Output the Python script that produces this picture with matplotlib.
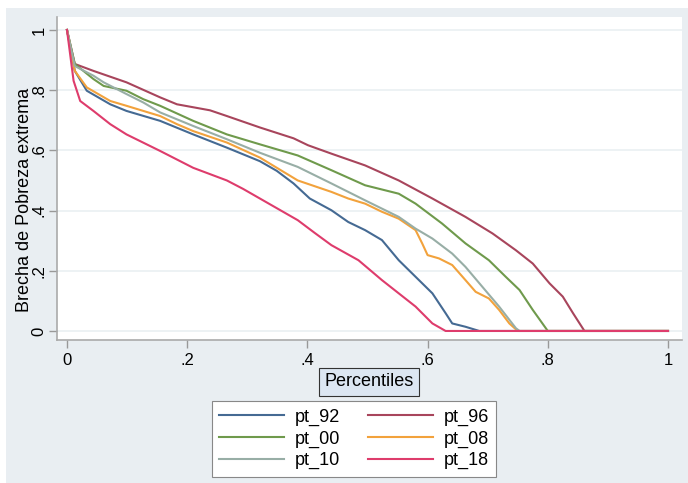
import numpy as np
import matplotlib
matplotlib.use("Agg")
import matplotlib.pyplot as plt
from matplotlib.patches import Rectangle

plt.rcParams['font.family'] = ['Liberation Sans', 'DejaVu Sans']

# curvas de brecha (percentil, brecha)
x_92 = [0, 0.013, 0.033, 0.072, 0.099, 0.155, 0.21, 0.266, 0.321, 0.349, 0.377, 0.404, 0.44, 0.468, 0.496, 0.524, 0.552, 0.58, 0.608, 0.63, 0.641, 0.663, 0.686, 1]
y_92 = [1, 0.864, 0.798, 0.753, 0.731, 0.698, 0.653, 0.609, 0.564, 0.532, 0.49, 0.44, 0.401, 0.362, 0.335, 0.302, 0.235, 0.18, 0.125, 0.059, 0.025, 0.014, 0, 0]

x_96 = [0, 0.013, 0.044, 0.099, 0.155, 0.183, 0.238, 0.266, 0.321, 0.377, 0.401, 0.44, 0.496, 0.552, 0.608, 0.663, 0.708, 0.747, 0.775, 0.803, 0.825, 0.842, 0.861, 1]
y_96 = [1, 0.887, 0.864, 0.826, 0.776, 0.753, 0.733, 0.714, 0.676, 0.64, 0.617, 0.589, 0.55, 0.50, 0.44, 0.379, 0.324, 0.268, 0.224, 0.158, 0.114, 0.059, 0, 0]

x_00 = [0, 0.013, 0.044, 0.061, 0.099, 0.127, 0.155, 0.21, 0.266, 0.321, 0.384, 0.44, 0.496, 0.552, 0.58, 0.624, 0.663, 0.702, 0.73, 0.753, 0.775, 0.80, 1]
y_00 = [1, 0.887, 0.837, 0.814, 0.798, 0.77, 0.748, 0.698, 0.653, 0.62, 0.583, 0.534, 0.484, 0.456, 0.423, 0.357, 0.291, 0.235, 0.18, 0.136, 0.07, 0, 0]

x_08 = [0, 0.013, 0.033, 0.072, 0.099, 0.155, 0.183, 0.21, 0.266, 0.321, 0.384, 0.44, 0.468, 0.496, 0.524, 0.552, 0.58, 0.591, 0.6, 0.619, 0.641, 0.663, 0.68, 0.702, 0.719, 0.736, 0.75, 1]
y_08 = [1, 0.864, 0.809, 0.764, 0.748, 0.714, 0.687, 0.664, 0.626, 0.576, 0.50, 0.462, 0.44, 0.423, 0.396, 0.373, 0.335, 0.291, 0.252, 0.241, 0.219, 0.169, 0.13, 0.108, 0.07, 0.025, 0, 0]

x_10 = [0, 0.013, 0.044, 0.061, 0.099, 0.127, 0.155, 0.21, 0.266, 0.321, 0.384, 0.44, 0.496, 0.552, 0.58, 0.608, 0.641, 0.663, 0.691, 0.719, 0.747, 0.753, 1]
y_10 = [1, 0.88, 0.848, 0.826, 0.787, 0.759, 0.726, 0.681, 0.637, 0.592, 0.545, 0.49, 0.434, 0.379, 0.34, 0.307, 0.257, 0.213, 0.147, 0.081, 0.009, 0, 0]

x_18 = [0, 0.011, 0.022, 0.044, 0.072, 0.099, 0.155, 0.21, 0.266, 0.293, 0.321, 0.384, 0.412, 0.44, 0.485, 0.524, 0.552, 0.58, 0.608, 0.63, 1]
y_18 = [1, 0.831, 0.764, 0.731, 0.687, 0.653, 0.598, 0.542, 0.50, 0.472, 0.44, 0.368, 0.326, 0.285, 0.235, 0.169, 0.125, 0.081, 0.025, 0, 0]

series = [("pt_92", x_92, y_92, "#456a93"),
          ("pt_96", x_96, y_96, "#a8455c"),
          ("pt_00", x_00, y_00, "#6f9a4c"),
          ("pt_08", x_08, y_08, "#f2a23c"),
          ("pt_10", x_10, y_10, "#98aea6"),
          ("pt_18", x_18, y_18, "#de3c6c")]

ticks = [0, 0.2, 0.4, 0.6, 0.8, 1]
tick_labels = ["0", ".2", ".4", ".6", ".8", "1"]

W, H = 688, 483
fig = plt.figure(figsize=(W / 100, H / 100), dpi=100, facecolor="white")
fig.patches.append(Rectangle((6 / W, 0), (W - 6) / W, (H - 8) / H, transform=fig.transFigure,
                             facecolor="#e9eef2", edgecolor="none", zorder=-10))

ax = fig.add_axes([57 / W, 1 - 340 / H, (682 - 57) / W, (340 - 17) / H])
ax.set_facecolor("white")

lines = {}
for name, xs, ys, c in series:
    lines[name], = ax.plot(xs, ys, color=c, lw=1.5, label=name)

ax.set_xlim(-0.0166, 1.0233)
ax.set_ylim(-0.030, 1.043)
ax.set_xticks(ticks)
ax.set_xticklabels(tick_labels)
ax.set_yticks(ticks)
ax.set_yticklabels(tick_labels, rotation=90, va="center")
ax.tick_params(labelsize=12, color="#999999", length=6, width=1)
ax.tick_params(axis="y", pad=1.5)
ax.grid(axis="y", color="#eaf0f2", lw=1.2)
ax.set_axisbelow(True)
for s in ["top", "right"]:
    ax.spines[s].set_visible(False)
for s in ["left", "bottom"]:
    ax.spines[s].set_color("#aaaaaa")
    ax.spines[s].set_linewidth(1.2)

ax.set_ylabel("Brecha de Pobreza extrema", fontsize=13)
ax.yaxis.set_label_coords((33 - 57) / (682 - 57), (340 - 200) / (340 - 17))

fig.text(369 / W, 1 - 382 / H, "Percentiles", fontsize=13, ha="center", va="center",
         bbox=dict(boxstyle="square,pad=0.3", facecolor="#dce6f2", edgecolor="#333333", lw=0.8))

order = ["pt_92", "pt_00", "pt_10", "pt_96", "pt_08", "pt_18"]
leg = fig.legend([lines[k] for k in order], order, loc="center",
                 bbox_to_anchor=(354 / W, 1 - 439 / H), ncol=2, fontsize=13,
                 fancybox=False, edgecolor="#888888", framealpha=1,
                 handlelength=3.6, handletextpad=0.6, columnspacing=1.5,
                 labelspacing=0.25, borderpad=0.4)
leg.get_frame().set_linewidth(0.8)

fig.savefig("out.png", dpi=100, facecolor=fig.get_facecolor())
